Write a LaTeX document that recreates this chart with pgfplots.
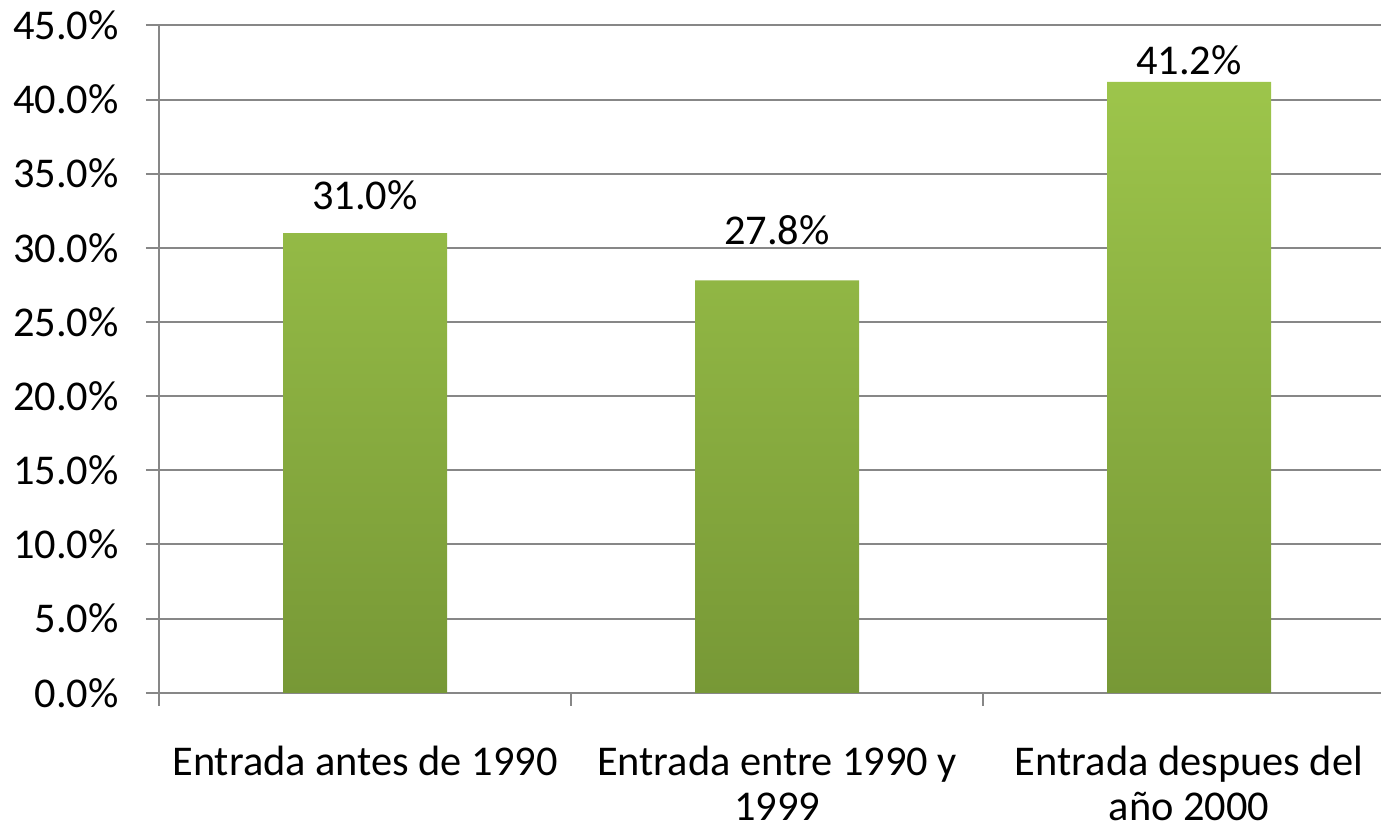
\documentclass[border=0pt]{standalone}
\usepackage{pgfplots}
\pgfplotsset{compat=1.18}
\usepackage{fontspec}
\setmainfont{Carlito}
\definecolor{gridgray}{HTML}{878787}
\definecolor{bartop}{HTML}{9DC54B}
\definecolor{barbot}{HTML}{779836}
\pgfplotsset{/pgf/number format/assume math mode=true}
\newcommand{\chartfont}{\fontsize{21.2}{22.5}\selectfont}

\begin{document}
\begin{tikzpicture}
\begin{axis}[
  name=ax,
  scale only axis, width=611pt, height=333.7pt,
  ybar, bar width=82pt,
  xmin=-0.5, xmax=2.466, ymin=0, ymax=45,
  axis x line=bottom, axis y line=left,
  axis line style={-, draw=gridgray, line width=1pt},
  ymajorgrids, grid style={draw=gridgray, line width=1pt},
  tick align=outside, major tick length=6.5pt,
  tick style={draw=gridgray, line width=1pt},
  ytick={0,5,...,45},
  yticklabel={\pgfmathprintnumber[fixed,fixed zerofill,precision=1]{\tick}\%},
  yticklabel style={font=\chartfont, anchor=east, inner sep=0pt, xshift=-13.5pt},
  xtick={-0.5,0.5,1.5,2.5}, xticklabels={},
  extra x ticks={0,1,2},
  extra x tick labels={Entrada antes de 1990, {Entrada entre 1990 y\\1999}, {Entrada despues del\\año 2000}},
  extra x tick style={major tick length=0pt, tick style={draw=none},
    xticklabel style={font=\chartfont, align=center, anchor=north, inner sep=0pt, yshift=-26.5pt}},
  visualization depends on={\thisrow{off} \as \labeloff},
  nodes near coords={\pgfmathprintnumber[fixed,fixed zerofill,precision=1]{\pgfplotspointmeta}\%},
  nodes near coords style={font=\chartfont, anchor=base, inner sep=0pt, yshift=\labeloff pt, text=black},
]
\addplot[draw=none, top color=bartop, bottom color=barbot] table[x=x, y=y] {
x y off
0 31.0 12
1 27.8 18
2 41.2 3.5
};
\end{axis}
\pgfresetboundingbox
\path[use as bounding box] ([xshift=-79.5pt,yshift=-68.2pt]ax.south west) rectangle ([yshift=12.7pt]ax.north east);
\end{tikzpicture}
\end{document}
